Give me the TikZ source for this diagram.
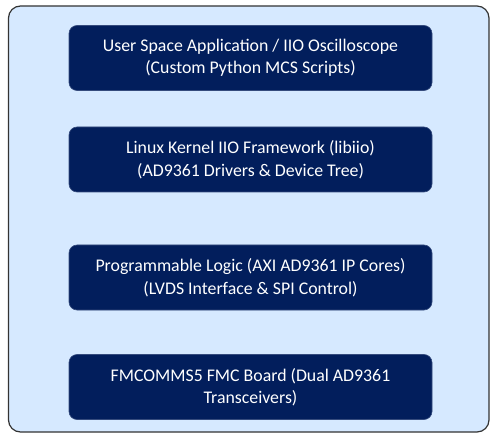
\documentclass[tikz,border=0pt]{standalone}
\usepackage{fontspec}
\setmainfont{Carlito}
\definecolor{layerblue}{RGB}{2,30,92}
\definecolor{stackbg}{RGB}{214,233,255}
\tikzset{
  layer/.style={draw=layerblue!80!white, line width=0.6pt, fill=layerblue, rounded corners=8pt,
    minimum width=363pt, minimum height=65pt, align=center, text=white,
    font=\fontsize{17.8}{22.5}\selectfont},
}
\begin{document}
\begin{tikzpicture}[x=1pt,y=1pt]
	%%%%% START %%%%%
	\useasboundingbox (0,0) rectangle (500,442);
	
	\draw[fill=stackbg, draw=black!80, line width=1.2pt, rounded corners=12pt] (8.5,10) rectangle (489,436);
	
	\node[layer] (userspace) at (250.5,384) {User Space Application / IIO Oscilloscope\\(Custom Python MCS Scripts)};
	\node[layer] (kernel) at (250.5,282.5) {Linux Kernel IIO Framework (libiio)\\(AD9361 Drivers \& Device Tree)};
	\node[layer] (fabric) at (250.5,164.5) {Programmable Logic (AXI AD9361 IP Cores)\\(LVDS Interface \& SPI Control)};
	\node[layer] (board) at (250.5,55) {FMCOMMS5 FMC Board (Dual AD9361\\Transceivers)};
	
	%%%%% END %%%%%
\end{tikzpicture}
\end{document}
